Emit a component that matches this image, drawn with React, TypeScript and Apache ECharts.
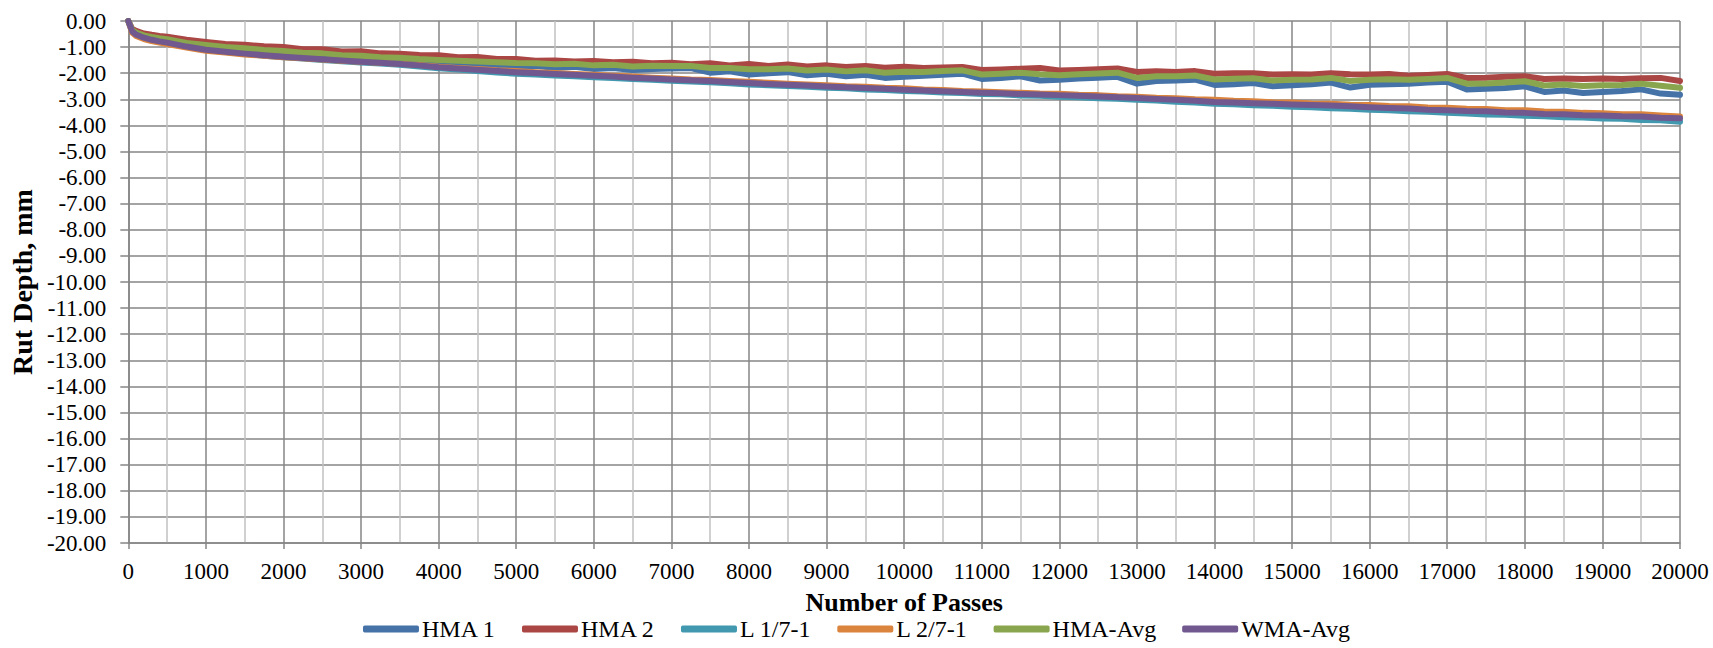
import React, { useEffect, useRef } from "react";
import * as echarts from "echarts";

const passes = [
  0, 50, 100, 200, 300, 400, 500, 750, 1000, 1250, 1500, 1750, 2000, 2250, 2500, 2750, 3000, 3250, 3500, 3750,
  4000, 4250, 4500, 4750, 5000, 5250, 5500, 5750, 6000, 6250, 6500, 6750, 7000, 7250, 7500, 7750, 8000, 8250,
  8500, 8750, 9000, 9250, 9500, 9750, 10000, 10250, 10500, 10750, 11000, 11250, 11500, 11750, 12000, 12250,
  12500, 12750, 13000, 13250, 13500, 13750, 14000, 14250, 14500, 14750, 15000, 15250, 15500, 15750, 16000,
  16250, 16500, 16750, 17000, 17250, 17500, 17750, 18000, 18250, 18500, 18750, 19000, 19250, 19500, 19750, 20000,
];

const hma1 = [
  0, -0.38, -0.5, -0.62, -0.7, -0.76, -0.8, -0.95, -1.05, -1.12, -1.18, -1.25, -1.3, -1.36, -1.4, -1.45, -1.5,
  -1.55, -1.58, -1.63, -1.66, -1.65, -1.72, -1.7, -1.76, -1.72, -1.8, -1.75, -1.84, -1.8, -1.88, -1.84, -1.82,
  -1.8, -1.98, -1.93, -2.05, -2.0, -1.96, -2.08, -2.02, -2.12, -2.06, -2.18, -2.14, -2.1, -2.06, -2.02, -2.22,
  -2.18, -2.12, -2.28, -2.25, -2.2, -2.17, -2.14, -2.4, -2.3, -2.28, -2.25, -2.45, -2.42, -2.38, -2.5, -2.46,
  -2.42, -2.36, -2.55, -2.44, -2.42, -2.4, -2.36, -2.33, -2.62, -2.6, -2.57, -2.5, -2.72, -2.66, -2.76, -2.72,
  -2.68, -2.62, -2.78, -2.83,
];

const hma2 = [
  0, -0.3, -0.38, -0.48, -0.53, -0.57, -0.6, -0.72, -0.8, -0.88, -0.91, -0.97, -1.0, -1.08, -1.08, -1.17, -1.16,
  -1.24, -1.25, -1.3, -1.31, -1.39, -1.38, -1.46, -1.46, -1.52, -1.51, -1.55, -1.53, -1.58, -1.56, -1.62, -1.6,
  -1.66, -1.62, -1.7, -1.65, -1.72, -1.67, -1.74, -1.7, -1.76, -1.72, -1.79, -1.75, -1.8, -1.78, -1.76, -1.88,
  -1.86, -1.83, -1.8, -1.9, -1.88, -1.85, -1.82, -1.95, -1.93, -1.95, -1.92, -2.02, -2.0, -2.0, -2.05, -2.04,
  -2.05, -2.0, -2.04, -2.05, -2.03, -2.1, -2.07, -2.03, -2.18, -2.17, -2.14, -2.12, -2.22, -2.2, -2.22, -2.2,
  -2.22, -2.19, -2.18, -2.3,
];

const l171 = [
  0, -0.4, -0.52, -0.64, -0.72, -0.78, -0.84, -0.99, -1.11, -1.19, -1.26, -1.33, -1.39, -1.44, -1.49, -1.54,
  -1.59, -1.63, -1.68, -1.74, -1.81, -1.86, -1.92, -1.97, -2.02, -2.05, -2.09, -2.12, -2.16, -2.18, -2.22, -2.25,
  -2.29, -2.32, -2.35, -2.39, -2.43, -2.46, -2.49, -2.52, -2.56, -2.58, -2.62, -2.64, -2.68, -2.7, -2.74, -2.76,
  -2.8, -2.81, -2.85, -2.86, -2.9, -2.92, -2.96, -2.98, -3.02, -3.05, -3.09, -3.12, -3.17, -3.19, -3.23, -3.25,
  -3.29, -3.3, -3.34, -3.36, -3.4, -3.42, -3.46, -3.48, -3.52, -3.54, -3.58, -3.59, -3.63, -3.65, -3.69, -3.7,
  -3.74, -3.75, -3.79, -3.8, -3.86,
];

const l271 = [
  0, -0.45, -0.57, -0.69, -0.77, -0.83, -0.88, -1.02, -1.14, -1.21, -1.28, -1.33, -1.39, -1.43, -1.48, -1.52,
  -1.56, -1.6, -1.64, -1.69, -1.75, -1.8, -1.84, -1.89, -1.92, -1.96, -1.99, -2.03, -2.06, -2.1, -2.13, -2.17,
  -2.2, -2.24, -2.26, -2.3, -2.33, -2.37, -2.4, -2.43, -2.46, -2.5, -2.52, -2.56, -2.58, -2.62, -2.64, -2.68,
  -2.7, -2.73, -2.75, -2.78, -2.79, -2.83, -2.84, -2.88, -2.9, -2.94, -2.96, -3.0, -3.02, -3.06, -3.07, -3.11,
  -3.12, -3.16, -3.17, -3.21, -3.22, -3.26, -3.27, -3.31, -3.32, -3.36, -3.37, -3.42, -3.42, -3.47, -3.48, -3.52,
  -3.53, -3.57, -3.57, -3.62, -3.66,
];

const hmaAvg = [
  0, -0.34, -0.44, -0.55, -0.61, -0.66, -0.7, -0.84, -0.92, -1.0, -1.04, -1.11, -1.15, -1.22, -1.24, -1.31, -1.33,
  -1.39, -1.41, -1.46, -1.49, -1.52, -1.55, -1.58, -1.61, -1.62, -1.66, -1.64, -1.7, -1.68, -1.74, -1.71, -1.72,
  -1.72, -1.8, -1.8, -1.85, -1.85, -1.82, -1.9, -1.86, -1.93, -1.89, -1.98, -1.94, -1.95, -1.92, -1.89, -2.05,
  -2.02, -1.98, -2.04, -2.08, -2.04, -2.01, -1.98, -2.18, -2.12, -2.12, -2.09, -2.24, -2.21, -2.19, -2.28, -2.25,
  -2.24, -2.18, -2.3, -2.25, -2.23, -2.25, -2.22, -2.18, -2.4, -2.39, -2.36, -2.31, -2.47, -2.43, -2.49, -2.46,
  -2.45, -2.4, -2.48, -2.56,
];

const wmaAvg = [
  0, -0.4, -0.52, -0.64, -0.72, -0.78, -0.83, -0.98, -1.1, -1.18, -1.25, -1.31, -1.37, -1.42, -1.47, -1.51,
  -1.56, -1.6, -1.65, -1.7, -1.77, -1.82, -1.87, -1.92, -1.96, -1.99, -2.03, -2.06, -2.1, -2.13, -2.17, -2.2,
  -2.24, -2.27, -2.3, -2.34, -2.38, -2.41, -2.44, -2.47, -2.51, -2.54, -2.57, -2.6, -2.63, -2.66, -2.69, -2.72,
  -2.75, -2.77, -2.8, -2.82, -2.84, -2.86, -2.89, -2.92, -2.95, -2.99, -3.02, -3.06, -3.1, -3.12, -3.15, -3.17,
  -3.2, -3.22, -3.24, -3.27, -3.3, -3.33, -3.35, -3.4, -3.42, -3.45, -3.46, -3.51, -3.52, -3.56, -3.57, -3.61,
  -3.62, -3.65, -3.66, -3.71, -3.73,
];

const seriesNames = ["HMA 1", "HMA 2", "L 1/7-1", "L 2/7-1", "HMA-Avg", "WMA-Avg"];
const seriesValues = [hma1, hma2, l171, l271, hmaAvg, wmaAvg];
const seriesColors = ["#4572A7", "#AA4643", "#4198AF", "#DB843D", "#89A54E", "#71588F"];

const FONT = "Liberation Serif";

export default function App() {
  const ref = useRef<HTMLDivElement>(null);
  useEffect(() => {
    if (!ref.current) return;
    const chart = echarts.init(ref.current, undefined, { renderer: "svg" });
    chart.setOption({
      animation: false,
      backgroundColor: "#ffffff",
      textStyle: { fontFamily: FONT },
      grid: { left: 126, right: 33, top: 21, bottom: 105, containLabel: false },
      legend: {
        bottom: 2,
        left: "center",
        itemWidth: 56,
        itemHeight: 7,
        itemGap: 26,
        icon: "roundRect",
        textStyle: { fontFamily: FONT, fontSize: 24, color: "#000", padding: [0, 0, 0, -2] },
        data: seriesNames,
      },
      xAxis: {
        type: "value",
        min: 0,
        max: 20000,
        interval: 1000,
        name: "Number of Passes",
        nameLocation: "middle",
        nameGap: 46,
        nameTextStyle: { fontFamily: FONT, fontSize: 26, fontWeight: "bold", color: "#000" },
        axisLine: { show: true, onZero: false, lineStyle: { color: "#868686", width: 1.5 } },
        axisTick: { show: true, length: 6, lineStyle: { color: "#868686", width: 1.5 } },
        axisLabel: {
          fontFamily: FONT,
          fontSize: 23,
          color: "#000",
          margin: 17,
          formatter: (v: number) => String(v),
        },
        splitLine: { show: true, lineStyle: { color: "#868686", width: 1.5 } },
        minorTick: { show: false, splitNumber: 2 },
        minorSplitLine: { show: true, lineStyle: { color: "#c0c0c0", width: 1.5 } },
      },
      yAxis: {
        type: "value",
        min: -20,
        max: 0,
        interval: 1,
        name: "Rut Depth, mm",
        nameLocation: "middle",
        nameGap: 92,
        nameTextStyle: { fontFamily: FONT, fontSize: 28, fontWeight: "bold", color: "#000" },
        axisLine: { show: true, lineStyle: { color: "#868686", width: 1.5 } },
        axisTick: { show: true, length: 8, lineStyle: { color: "#868686", width: 1.5 } },
        axisLabel: {
          fontFamily: FONT,
          fontSize: 23,
          color: "#000",
          margin: 22,
          formatter: (v: number) => v.toFixed(2),
        },
        splitLine: { show: true, lineStyle: { color: "#868686", width: 1.5 } },
      },
      series: seriesNames.map((name, k) => ({
        name,
        type: "line",
        showSymbol: false,
        symbol: "none",
        smooth: false,
        color: seriesColors[k],
        lineStyle: { width: 6, color: seriesColors[k], cap: "round", join: "round" },
        data: passes.map((p, i) => [p, seriesValues[k][i]]),
        z: 2 + k,
      })),
    });
    return () => chart.dispose();
  }, []);
  return (
    <div
      ref={ref}
      style={{ position: "fixed", left: 0, top: 0, width: 1713, height: 648, background: "#fff" }}
    />
  );
}
